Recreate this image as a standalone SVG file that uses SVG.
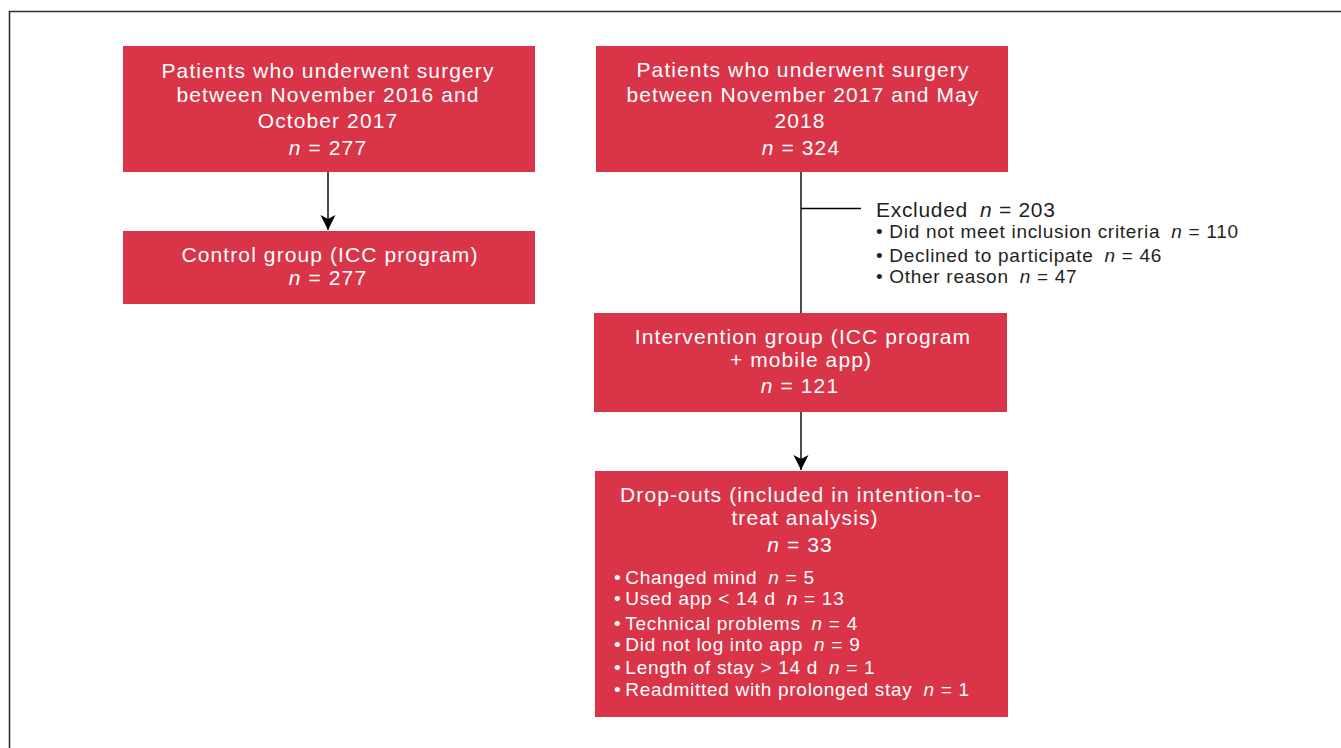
<svg xmlns="http://www.w3.org/2000/svg" width="1341" height="748" viewBox="0 0 1341 748">
<style>
  .box { fill: #d93448; }
  .t { font-family: "Liberation Sans", Arial, sans-serif; fill: #ffffff; font-size: 21px; letter-spacing: 1.1px; text-anchor: middle; }
  .tl { font-family: "Liberation Sans", Arial, sans-serif; fill: #ffffff; font-size: 19px; letter-spacing: 0.7px; }
  .ex { font-family: "Liberation Sans", Arial, sans-serif; fill: #231f20; font-size: 21px; letter-spacing: 0.7px; }
  .exl { font-family: "Liberation Sans", Arial, sans-serif; fill: #231f20; font-size: 19px; letter-spacing: 0.7px; }
  .i { font-style: italic; }
  .ln { stroke: #000000; stroke-width: 1.4; fill: none; }
</style>
<defs>
  <marker id="arr" markerWidth="16" markerHeight="16" refX="15" refY="7.5" orient="auto" markerUnits="userSpaceOnUse">
    <path d="M0,0 L15,7.5 L0,15 L4,7.5 Z" fill="#000000"/>
  </marker>
</defs>
<rect x="0" y="0" width="1341" height="748" fill="#ffffff"/>
<path d="M9.5,748 V11.5 H1341" stroke="#333333" stroke-width="1.6" fill="none"/>

<g id="connectors">
  <line class="ln" x1="328" y1="172" x2="328" y2="230" marker-end="url(#arr)"/>
  <line class="ln" x1="801" y1="172" x2="801" y2="313"/>
  <line class="ln" x1="801" y1="208.5" x2="861" y2="208.5"/>
  <line class="ln" x1="801" y1="412" x2="801" y2="470" marker-end="url(#arr)"/>
</g>

<g id="node-surgery-2016">
  <rect class="box" x="123" y="46" width="412" height="126"/>
  <text class="t" x="328" y="78">Patients who underwent surgery</text>
  <text class="t" x="328" y="102">between November 2016 and</text>
  <text class="t" x="328" y="128">October 2017</text>
  <text class="t" x="328" y="155"><tspan class="i">n</tspan> = 277</text>
</g>

<g id="node-control">
  <rect class="box" x="123" y="231" width="412" height="73"/>
  <text class="t" x="330" y="262">Control group (ICC program)</text>
  <text class="t" x="328" y="285"><tspan class="i">n</tspan> = 277</text>
</g>

<g id="node-surgery-2017">
  <rect class="box" x="596" y="46" width="412" height="126"/>
  <text class="t" x="803" y="77">Patients who underwent surgery</text>
  <text class="t" x="803" y="102">between November 2017 and May</text>
  <text class="t" x="800" y="128">2018</text>
  <text class="t" x="801" y="155"><tspan class="i">n</tspan> = 324</text>
</g>

<g id="node-excluded">
  <text class="ex" x="876" y="217">Excluded<tspan class="i" dx="12">n</tspan> = 203</text>
  <text class="exl" x="876" y="238">•<tspan dx="6">Did not meet inclusion criteria</tspan><tspan class="i" dx="11">n</tspan> = 110</text>
  <text class="exl" x="876" y="262">•<tspan dx="6">Declined to participate</tspan><tspan class="i" dx="11">n</tspan> = 46</text>
  <text class="exl" x="876" y="283">•<tspan dx="6">Other reason</tspan><tspan class="i" dx="11">n</tspan> = 47</text>
</g>

<g id="node-intervention">
  <rect class="box" x="594" y="313" width="413" height="99"/>
  <text class="t" x="803" y="344">Intervention group (ICC program</text>
  <text class="t" x="801" y="367">+ mobile app)</text>
  <text class="t" x="800" y="393"><tspan class="i">n</tspan> = 121</text>
</g>

<g id="node-dropouts">
  <rect class="box" x="595" y="471" width="413" height="246"/>
  <text class="t" x="801" y="502">Drop-outs (included in intention-to-</text>
  <text class="t" x="805" y="525">treat analysis)</text>
  <text class="t" x="800" y="552"><tspan class="i">n</tspan> = 33</text>
  <text class="tl" x="614" y="584">•<tspan dx="4">Changed mind</tspan><tspan class="i" dx="11">n</tspan> = 5</text>
  <text class="tl" x="614" y="605">•<tspan dx="4">Used app &lt; 14 d</tspan><tspan class="i" dx="11">n</tspan> = 13</text>
  <text class="tl" x="614" y="630">•<tspan dx="4">Technical problems</tspan><tspan class="i" dx="11">n</tspan> = 4</text>
  <text class="tl" x="614" y="651">•<tspan dx="4">Did not log into app</tspan><tspan class="i" dx="11">n</tspan> = 9</text>
  <text class="tl" x="614" y="674">•<tspan dx="4">Length of stay &gt; 14 d</tspan><tspan class="i" dx="11">n</tspan> = 1</text>
  <text class="tl" x="614" y="696">•<tspan dx="4">Readmitted with prolonged stay</tspan><tspan class="i" dx="11">n</tspan> = 1</text>
</g>
</svg>
